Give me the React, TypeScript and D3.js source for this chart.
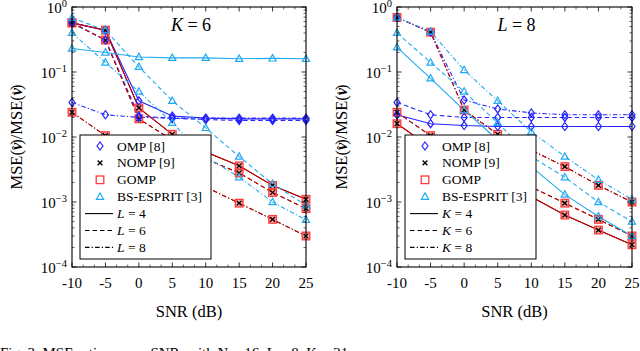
import React from "react";
import * as d3 from "d3";

const snr = [-10, -5, 0, 5, 10, 15, 20, 25];

// Left panel (K = 6), curves for L = 4, 6, 8
const ompL4 = [0.57, 0.44, 0.036, 0.021, 0.0195, 0.019, 0.019, 0.019];
const ompL6 = [0.57, 0.31, 0.021, 0.0195, 0.0185, 0.018, 0.018, 0.018];
const ompL8 = [0.034, 0.022, 0.02, 0.0195, 0.0195, 0.0195, 0.0195, 0.0195];
const nompL4 = [0.57, 0.44, 0.028, 0.011, 0.0059, 0.0036, 0.0018, 0.0011];
const nompL6 = [0.57, 0.31, 0.019, 0.009, 0.0046, 0.0028, 0.0014, 0.00079];
const nompL8 = [0.024, 0.0105, 0.0055, 0.003, 0.0017, 0.00096, 0.00054, 0.0003];
const gompL4 = [0.57, 0.44, 0.028, 0.011, 0.0059, 0.0036, 0.0018, 0.0011];
const gompL6 = [0.57, 0.31, 0.019, 0.009, 0.0046, 0.0028, 0.0014, 0.00079];
const gompL8 = [0.024, 0.0105, 0.0055, 0.003, 0.0017, 0.00096, 0.00054, 0.0003];
const espL4 = [0.23, 0.2, 0.17, 0.165, 0.165, 0.16, 0.162, 0.16];
const espL6 = [0.68, 0.44, 0.12, 0.036, 0.0138, 0.005, 0.0019, 0.00089];
const espL8 = [0.4, 0.14, 0.05, 0.0165, 0.005, 0.0024, 0.001, 0.00053];

// Right panel (L = 8), curves for K = 4, 6, 8
const ompK4 = [0.022, 0.016, 0.015, 0.0145, 0.0145, 0.0145, 0.0145, 0.0145];
const ompK6 = [0.034, 0.022, 0.02, 0.02, 0.02, 0.02, 0.02, 0.02];
const ompK8 = [0.69, 0.41, 0.037, 0.027, 0.0235, 0.022, 0.022, 0.022];
const nompK4 = [0.016, 0.007, 0.004, 0.0022, 0.0012, 0.00063, 0.00037, 0.00022];
const nompK6 = [0.024, 0.0105, 0.0055, 0.003, 0.0017, 0.00096, 0.00054, 0.0003];
const nompK8 = [0.69, 0.41, 0.026, 0.011, 0.0063, 0.0035, 0.0018, 0.001];
const gompK4 = [0.016, 0.007, 0.004, 0.0022, 0.0012, 0.00063, 0.00037, 0.00022];
const gompK6 = [0.024, 0.0105, 0.0055, 0.003, 0.0017, 0.00096, 0.00054, 0.0003];
const gompK8 = [0.69, 0.41, 0.026, 0.011, 0.0063, 0.0035, 0.0018, 0.001];
const espK4 = [0.24, 0.08, 0.026, 0.009, 0.0035, 0.0013, 0.0006, 0.0003];
const espK6 = [0.4, 0.14, 0.05, 0.0165, 0.005, 0.0024, 0.001, 0.0005];
const espK8 = [0.69, 0.42, 0.107, 0.036, 0.012, 0.005, 0.0022, 0.0011];

const xTicks = [-10, -5, 0, 5, 10, 15, 20, 25];
const yTickExps = [0, -1, -2, -3, -4];
const methodNames = ["OMP [8]", "NOMP [9]", "GOMP", "BS-ESPRIT [3]"];
const styleValues = [4, 6, 8];

const FONT = "Liberation Serif, Times New Roman, Times, DejaVu Serif, serif";
const C_OMP = "#2424ff";
const C_NOMP = "#000000";
const C_GOMP = "#d40000";
const C_SQ = "#ff3c3c";
const C_ESP = "#22aaf0";
const DASH = ["none", "4.5,3", "4.5,2.2,1.2,2.2"];

type Series = { vals: number[]; method: number; style: number };

const leftSeries: Series[] = [
  { vals: nompL4, method: 1, style: 0 }, { vals: nompL6, method: 1, style: 1 }, { vals: nompL8, method: 1, style: 2 },
  { vals: ompL4, method: 0, style: 0 }, { vals: ompL6, method: 0, style: 1 }, { vals: ompL8, method: 0, style: 2 },
  { vals: gompL4, method: 2, style: 0 }, { vals: gompL6, method: 2, style: 1 }, { vals: gompL8, method: 2, style: 2 },
  { vals: espL4, method: 3, style: 0 }, { vals: espL6, method: 3, style: 1 }, { vals: espL8, method: 3, style: 2 },
];
const rightSeries: Series[] = [
  { vals: nompK4, method: 1, style: 0 }, { vals: nompK6, method: 1, style: 1 }, { vals: nompK8, method: 1, style: 2 },
  { vals: ompK4, method: 0, style: 0 }, { vals: ompK6, method: 0, style: 1 }, { vals: ompK8, method: 0, style: 2 },
  { vals: gompK4, method: 2, style: 0 }, { vals: gompK6, method: 2, style: 1 }, { vals: gompK8, method: 2, style: 2 },
  { vals: espK4, method: 3, style: 0 }, { vals: espK6, method: 3, style: 1 }, { vals: espK8, method: 3, style: 2 },
];

const lineColor = [C_OMP, C_NOMP, C_GOMP, C_ESP];
const txt = { fontFamily: FONT };

function Marker({ m, x, y, legend }: { m: number; x: number; y: number; legend?: boolean }) {
  if (m === 0) {
    return <path d={`M${x},${y - 4}L${x + 3},${y}L${x},${y + 4}L${x - 3},${y}Z`} fill="none" stroke={C_OMP} strokeWidth={1.2} />;
  }
  if (m === 1) {
    const s = 2.4;
    return <path d={`M${x - s},${y - s}L${x + s},${y + s}M${x - s},${y + s}L${x + s},${y - s}`} stroke="#000" strokeWidth={1.3} />;
  }
  if (m === 2) {
    const s = 3.8;
    return <rect x={x - s} y={y - s} width={2 * s} height={2 * s} fill={legend ? "none" : "rgba(255,70,70,0.45)"} stroke={C_SQ} strokeWidth={1.3} />;
  }
  return <path d={`M${x},${y - 3.8}L${x + 3.6},${y + 2.6}L${x - 3.6},${y + 2.6}Z`} fill="none" stroke={C_ESP} strokeWidth={1.2} />;
}

function Panel({ x0, x1, series, title, varName }: { x0: number; x1: number; series: Series[]; title: string; varName: string }) {
  const yTop = 7, yBot = 267;
  const x = d3.scaleLinear().domain([-10, 25]).range([x0, x1]);
  const y = d3.scaleLog().domain([1e-4, 1]).range([yBot, yTop]);
  const line = d3.line<number>().x((_, i) => x(snr[i])).y((v) => y(v));
  const minorX: number[] = [];
  for (let i = 0; i < xTicks.length - 1; i++) {
    for (let k = 1; k < 3; k++) minorX.push(xTicks[i] + (k * 5) / 3);
  }
  const minorY: number[] = [];
  for (let e = -4; e < 0; e++) for (let m = 2; m <= 9; m++) minorY.push(m * Math.pow(10, e));
  const order = [2, 1, 0, 3];
  const lx = x0 + 8, ly = 135, lw = 131, lh = 124;
  const cx = (x0 + x1) / 2;
  return (
    <g>
      {series.map((s, i) => (
        <path key={"l" + i} d={line(s.vals) || ""} fill="none" stroke={lineColor[s.method]}
          strokeWidth={s.method === 1 ? 1 : 1.1} strokeDasharray={DASH[s.style]} />
      ))}
      {order.map((m) =>
        series.filter((s) => s.method === m).map((s, i) =>
          s.vals.map((v, j) => <Marker key={`m${m}-${i}-${j}`} m={m} x={x(snr[j])} y={y(v)} />)
        )
      )}
      <rect x={x0} y={yTop} width={x1 - x0} height={yBot - yTop} fill="none" stroke="#000" strokeWidth={1.1} />
      {xTicks.map((t) => (
        <g key={"xt" + t}>
          <line x1={x(t)} x2={x(t)} y1={yBot} y2={yBot - 4.5} stroke="#000" strokeWidth={0.8} />
          <line x1={x(t)} x2={x(t)} y1={yTop} y2={yTop + 4.5} stroke="#000" strokeWidth={0.8} />
          <text x={x(t)} y={288} textAnchor="middle" style={txt} fontSize={15}>{t}</text>
        </g>
      ))}
      {minorX.map((t, i) => (
        <g key={"xm" + i}>
          <line x1={x(t)} x2={x(t)} y1={yBot} y2={yBot - 2.5} stroke="#000" strokeWidth={0.6} />
          <line x1={x(t)} x2={x(t)} y1={yTop} y2={yTop + 2.5} stroke="#000" strokeWidth={0.6} />
        </g>
      ))}
      {yTickExps.map((e) => {
        const yy = y(Math.pow(10, e));
        return (
          <g key={"yt" + e}>
            <line x1={x0} x2={x0 + 4.5} y1={yy} y2={yy} stroke="#000" strokeWidth={0.8} />
            <line x1={x1} x2={x1 - 4.5} y1={yy} y2={yy} stroke="#000" strokeWidth={0.8} />
            <text x={x0 - 5} y={yy + 5.5} textAnchor="end" style={txt} fontSize={15}>
              10<tspan dy={-6} fontSize={10.5}>{e === 0 ? "0" : "\u2212" + Math.abs(e)}</tspan>
            </text>
          </g>
        );
      })}
      {minorY.map((v, i) => (
        <g key={"ym" + i}>
          <line x1={x0} x2={x0 + 2.5} y1={y(v)} y2={y(v)} stroke="#000" strokeWidth={0.6} />
          <line x1={x1} x2={x1 - 2.5} y1={y(v)} y2={y(v)} stroke="#000" strokeWidth={0.6} />
        </g>
      ))}
      <text x={cx + 2} y={31} textAnchor="middle" style={txt} fontSize={18}>
        <tspan fontStyle="italic">{title}</tspan> = {varName}
      </text>
      <text x={cx} y={317} textAnchor="middle" style={txt} fontSize={16.5}>SNR (dB)</text>
      <text transform={`translate(${x0 - 50},137) rotate(-90)`} textAnchor="middle" style={txt} fontSize={16.5}>
        MSE(<tspan fontWeight="bold" fontStyle="italic">{"\u03bd"}</tspan><tspan dx={-7} dy={-1} fontSize={12}>{"\u02c6"}</tspan><tspan dx={1} dy={1}>)/MSE(</tspan><tspan fontWeight="bold" fontStyle="italic">{"\u03bd"}</tspan><tspan dx={-7} dy={-1} fontSize={12}>{"\u02da"}</tspan><tspan dx={1} dy={1}>)</tspan>
      </text>
      <rect x={lx} y={ly} width={lw} height={lh} fill="#fff" stroke="#000" strokeWidth={1} />
      {methodNames.map((n, i) => (
        <g key={"lg" + i}>
          <Marker m={i} x={lx + 20} y={ly + 11 + i * 16.9} legend />
          <text x={lx + 37} y={ly + 11 + i * 16.9 + 4.5} style={txt} fontSize={13.5}>{n}</text>
        </g>
      ))}
      {styleValues.map((v, i) => {
        const yy = ly + 11 + (i + 4) * 16.9;
        return (
          <g key={"ls" + i}>
            <line x1={lx + 5} x2={lx + 33} y1={yy} y2={yy} stroke="#000" strokeWidth={1.1} strokeDasharray={DASH[i]} />
            <text x={lx + 37} y={yy + 4.5} style={txt} fontSize={13.5}>
              <tspan fontStyle="italic">{title === "K" ? "L" : "K"}</tspan> = {v}
            </text>
          </g>
        );
      })}
    </g>
  );
}

export default function App() {
  return (
    <svg width={640} height={351} style={{ position: "fixed", left: 0, top: 0, background: "#fff" }}>
      <rect width={640} height={351} fill="#fff" />
      <Panel x0={72} x1={306} series={leftSeries} title="K" varName="6" />
      <Panel x0={397} x1={632} series={rightSeries} title="L" varName="8" />
      <text x={0} y={358} style={txt} fontSize={15}>
        Fig. 3.    MSE ratio versus SNR, with N = 16, L = 8, K = 21.
      </text>
    </svg>
  );
}
